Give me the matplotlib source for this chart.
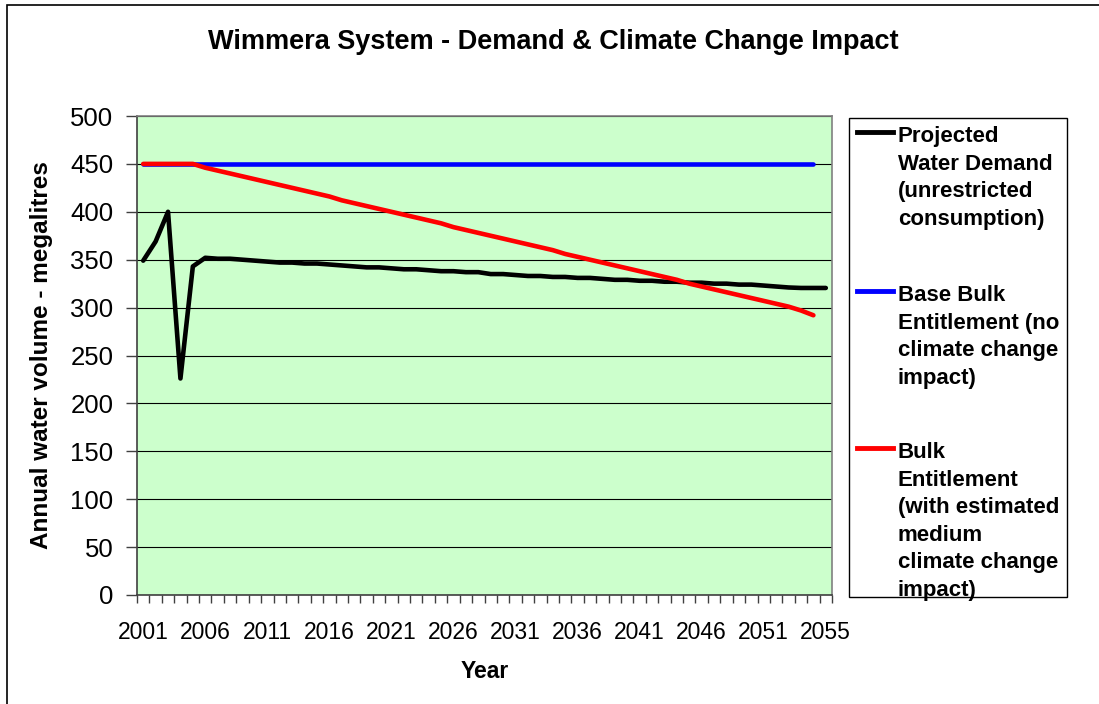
import matplotlib
matplotlib.use('Agg')
import matplotlib.pyplot as plt
from matplotlib.lines import Line2D
from matplotlib.patches import Rectangle

plt.rcParams['font.family'] = ['Liberation Sans', 'DejaVu Sans']

W, H = 1099, 704

# category labels shown on the x axis (every 5th category)
tick_labels = ['2001', '2006', '2011', '2016', '2021', '2026',
               '2031', '2036', '2041', '2046', '2051', '2055']
n_categories = 56

demand = [349, 369, 400, 226, 343, 352, 351, 351, 350, 349,
          348, 347, 347, 346, 346, 345, 344, 343, 342, 342,
          341, 340, 340, 339, 338, 338, 337, 337, 335, 335,
          334, 333, 333, 332, 332, 331, 331, 330, 329, 329,
          328, 328, 327, 327, 326, 326, 325, 325, 324, 324,
          323, 322, 321, 320.5, 320.5, 320.5]

base_entitlement = [450] * 55

climate_entitlement = [450, 450, 450, 450, 450, 446, 443, 440, 437, 434,
                       431, 428, 425, 422, 419, 416, 412, 409, 406, 403,
                       400, 397, 394, 391, 388, 384, 381, 378, 375, 372,
                       369, 366, 363, 360, 356, 353, 350, 347, 344, 341,
                       338, 335, 332, 329, 325, 322, 319, 316, 313, 310,
                       307, 304, 301, 297, 292]

series = [
    ('Projected\nWater Demand\n(unrestricted\nconsumption)', demand, 'black', 132),
    ('Base Bulk\nEntitlement (no\nclimate change\nimpact)', base_entitlement, '#0000ff', 291),
    ('Bulk\nEntitlement\n(with estimated\nmedium\nclimate change\nimpact)', climate_entitlement, '#ff0000', 448),
]


def fx(x):
    return x / W


def fy(y):
    return 1 - y / H


fig = plt.figure(figsize=(W / 100, H / 100), dpi=100)
ax = fig.add_axes([fx(137), fy(595), fx(832) - fx(137), fy(116) - fy(595)])
ax.set_facecolor('#ccffcc')

for label, values, color, _ in series:
    ax.plot(range(len(values)), values, color=color, lw=3.3,
            solid_capstyle='round', solid_joinstyle='round')

ax.set_xlim(-0.5, n_categories - 0.5)
ax.set_ylim(0, 500)
ax.set_yticks(range(0, 501, 50))
ax.yaxis.grid(True, color='black', lw=0.8)
ax.set_axisbelow(True)
ax.tick_params(axis='y', direction='out', length=8, width=1, color='#404040',
               labelsize=18.5, pad=9)

ax.set_xticks(range(0, n_categories, 5))
ax.set_xticklabels(tick_labels)
ax.set_xticks([i - 0.5 for i in range(n_categories + 1)], minor=True)
ax.tick_params(axis='x', which='major', length=0, labelsize=16.5, pad=18.5)
ax.tick_params(axis='x', which='minor', direction='out', length=6, width=1,
               color='#404040')

for side in ['left', 'bottom']:
    ax.spines[side].set_color('#404040')
    ax.spines[side].set_linewidth(1.2)
for side in ['top', 'right']:
    ax.spines[side].set_color('#808080')
    ax.spines[side].set_linewidth(1.2)

fig.text(fx(553), fy(42), 'Wimmera System - Demand & Climate Change Impact',
         ha='center', va='center', fontsize=19.5, fontweight='bold')
fig.text(fx(42), fy(355), 'Annual water volume - megalitres', rotation=90,
         ha='center', va='center', fontsize=17.5, fontweight='bold')
fig.text(fx(485), fy(672), 'Year', ha='center', va='center',
         fontsize=16.5, fontweight='bold')

# legend box drawn by hand to keep the Excel layout
fig.patches.append(Rectangle((fx(849), fy(597)), fx(1067) - fx(849), fy(118) - fy(597),
                             transform=fig.transFigure, fill=False, ec='black', lw=1))
for label, values, color, yline in series:
    fig.lines.append(Line2D([fx(857), fx(893)], [fy(yline), fy(yline)],
                            transform=fig.transFigure, color=color, lw=3.5))
    fig.text(fx(898), fy(yline - 6), label, ha='left', va='top', fontsize=16,
             fontweight='bold', linespacing=1.41)

# outer chart border (cropped on the right and bottom)
fig.patches.append(Rectangle((fx(7), fy(720)), fx(1110) - fx(7), fy(5) - fy(720),
                             transform=fig.transFigure, fill=False, ec='black', lw=1.2))

fig.savefig('out.png', dpi=100)
